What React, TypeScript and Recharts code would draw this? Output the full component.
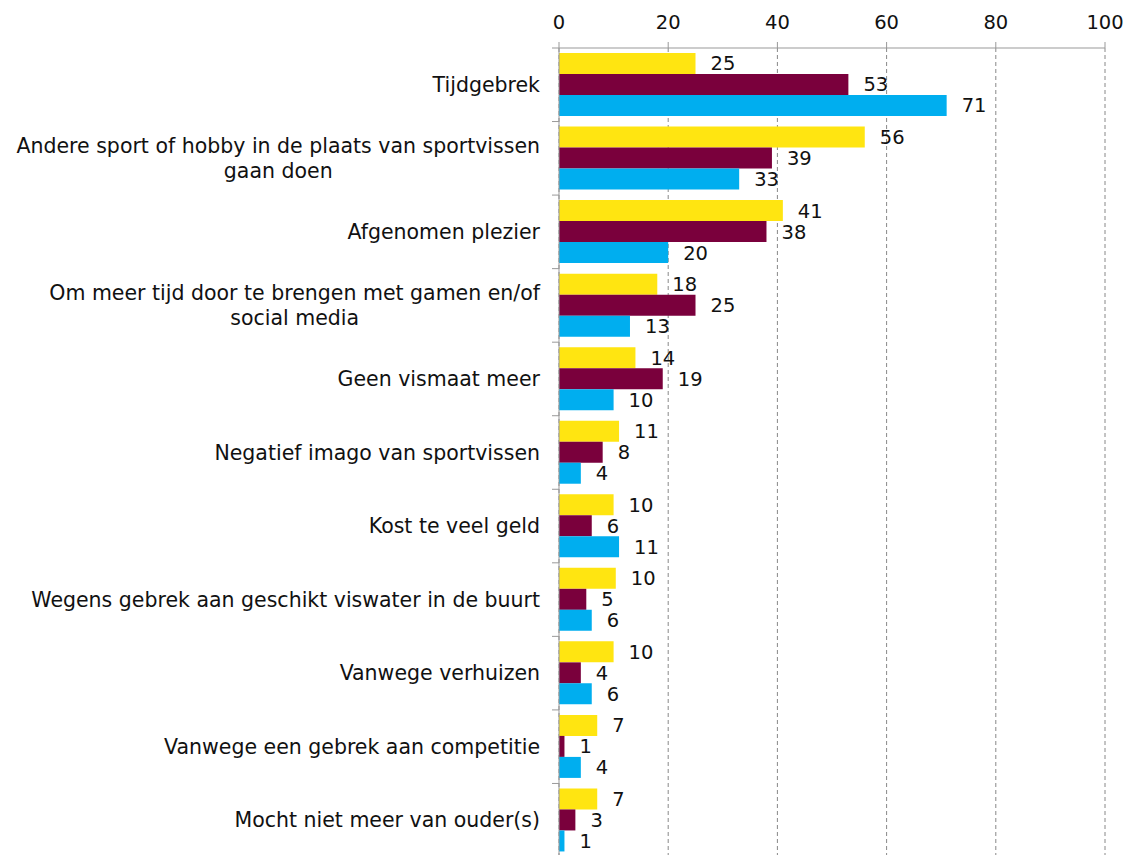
import React from 'react';
import { BarChart, Bar, XAxis, YAxis, CartesianGrid, LabelList } from 'recharts';

const categories = [
  'Tijdgebrek',
  'Andere sport of hobby in de plaats van sportvissen\ngaan doen',
  'Afgenomen plezier',
  'Om meer tijd door te brengen met gamen en/of\nsocial media',
  'Geen vismaat meer',
  'Negatief imago van sportvissen',
  'Kost te veel geld',
  'Wegens gebrek aan geschikt viswater in de buurt',
  'Vanwege verhuizen',
  'Vanwege een gebrek aan competitie',
  'Mocht niet meer van ouder(s)',
];

const yellowValues = [25, 56, 41, 18, 14, 11, 10, 10.4, 10, 7, 7];
const maroonValues = [53, 39, 38, 25, 19, 8, 6, 5, 4, 1, 3];
const blueValues = [71, 33, 20, 13, 10, 4, 11, 6, 6, 4, 1];

const xTicks = [0, 20, 40, 60, 80, 100];

const data = categories.map((name, i) => ({
  name,
  yellow: yellowValues[i],
  maroon: maroonValues[i],
  blue: blueValues[i],
}));

const WIDTH = 1127;
const HEIGHT = 849;
const TOP = 40;
const FONT = "'DejaVu Sans', Verdana, sans-serif";
const CAT_SIZE = 20.5;
const NUM_SIZE = 19.5;
const BAND = (HEIGHT - TOP) / categories.length;

let ctx: CanvasRenderingContext2D | null = null;
const textWidth = (s: string) => {
  if (!ctx) {
    ctx = document.createElement('canvas').getContext('2d');
  }
  if (!ctx) return s.length * 11;
  ctx.font = `${CAT_SIZE}px 'DejaVu Sans'`;
  return ctx.measureText(s).width;
};

const CategoryTick = (props: any) => {
  const { x, y, payload } = props;
  const lines: string[] = String(payload.value).split('\n');
  const blockW = Math.max(...lines.map(textWidth));
  const cx = x - blockW / 2;
  const lh = 25;
  const startY = y - ((lines.length - 1) * lh) / 2;
  return (
    <g>
      <line x1={x + 12} x2={x + 19} y1={y - BAND / 2} y2={y - BAND / 2} stroke="#999" />
      <text
        textAnchor="middle"
        fontSize={CAT_SIZE}
        fontFamily={FONT}
        fill="#111"
        dominantBaseline="central"
      >
        {lines.map((l, i) => (
          <tspan key={i} x={cx} y={startY + i * lh}>
            {l}
          </tspan>
        ))}
      </text>
    </g>
  );
};

const fmt = (v: any) => Math.round(Number(v));

export default function App() {
  return (
    <div style={{ fontFamily: FONT }}>
      <BarChart
        width={WIDTH}
        height={HEIGHT}
        data={data}
        layout="vertical"
        margin={{ top: 0, right: 30, bottom: 0, left: 0 }}
        barCategoryGap={5}
        barGap={0}
      >
        <CartesianGrid vertical horizontal={false} stroke="#888" strokeDasharray="4 3" />
        <XAxis
          type="number"
          orientation="top"
          domain={[0, 100]}
          ticks={xTicks}
          height={TOP}
          tickSize={6}
          tickMargin={13}
          stroke="#999"
          tick={{ fill: '#111', fontSize: NUM_SIZE, fontFamily: FONT }}
          interval={0}
        />
        <YAxis
          type="category"
          dataKey="name"
          width={551}
          tickLine={false}
          tickSize={7}
          tickMargin={12}
          stroke="#999"
          tick={<CategoryTick />}
          interval={0}
        />
        <Bar dataKey="yellow" fill="#FFE511" isAnimationActive={false}>
          <LabelList dataKey="yellow" position="right" offset={15} formatter={fmt} fill="#111" fontSize={NUM_SIZE} fontFamily={FONT} />
        </Bar>
        <Bar dataKey="maroon" fill="#7A003C" isAnimationActive={false}>
          <LabelList dataKey="maroon" position="right" offset={15} formatter={fmt} fill="#111" fontSize={NUM_SIZE} fontFamily={FONT} />
        </Bar>
        <Bar dataKey="blue" fill="#00AEEF" isAnimationActive={false}>
          <LabelList dataKey="blue" position="right" offset={15} formatter={fmt} fill="#111" fontSize={NUM_SIZE} fontFamily={FONT} />
        </Bar>
      </BarChart>
    </div>
  );
}
